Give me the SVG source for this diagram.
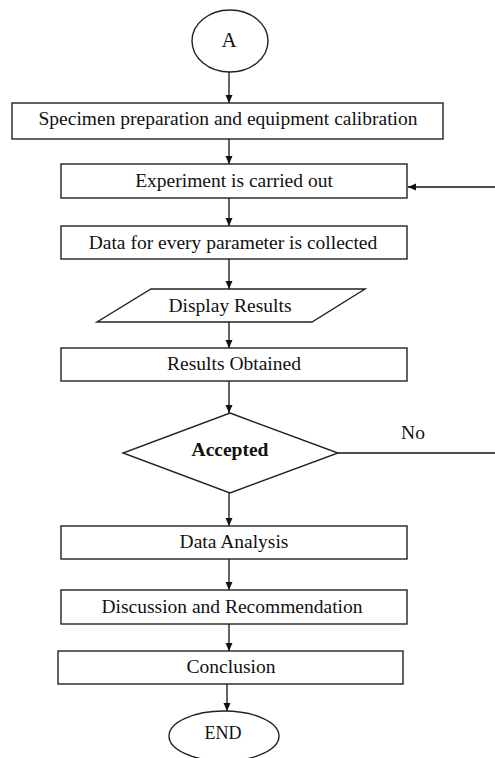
<svg xmlns="http://www.w3.org/2000/svg" width="495" height="758" viewBox="0 0 495 758">
<style>
.s{fill:#fff;stroke:#222;stroke-width:1.4}
.t{font-family:"Liberation Serif","Times New Roman",serif;font-size:19.5px;fill:#111;text-anchor:middle}
.c{stroke:#111;stroke-width:1.3;fill:none}
</style>
<defs>
<marker id="ah" markerWidth="8" markerHeight="8" refX="8" refY="4" orient="auto" markerUnits="userSpaceOnUse">
<path d="M0,0.5 L8,4 L0,7.5 Z" fill="#111"/>
</marker>
</defs>
<rect width="495" height="758" fill="#fff"/>
<g id="connectors">
<line class="c" x1="229" y1="72" x2="229" y2="103" marker-end="url(#ah)"/>
<line class="c" x1="229" y1="139" x2="229" y2="164" marker-end="url(#ah)"/>
<line class="c" x1="229" y1="198" x2="229" y2="226" marker-end="url(#ah)"/>
<line class="c" x1="229" y1="259" x2="229" y2="289" marker-end="url(#ah)"/>
<line class="c" x1="229" y1="322" x2="229" y2="348" marker-end="url(#ah)"/>
<line class="c" x1="229" y1="381" x2="229" y2="413" marker-end="url(#ah)"/>
<line class="c" x1="229" y1="493" x2="229" y2="526" marker-end="url(#ah)"/>
<line class="c" x1="229" y1="559" x2="229" y2="590" marker-end="url(#ah)"/>
<line class="c" x1="229" y1="624" x2="229" y2="651" marker-end="url(#ah)"/>
<line class="c" x1="227" y1="684" x2="227" y2="711" marker-end="url(#ah)"/>
<line class="c" x1="495" y1="187" x2="408" y2="187" marker-end="url(#ah)"/>
<line class="c" x1="338" y1="453" x2="495" y2="453"/>
<text class="t" x="413" y="439">No</text>
</g>
<g id="start">
<ellipse class="s" cx="230" cy="41" rx="38" ry="31"/>
<text class="t" x="229" y="47" style="font-size:21px">A</text>
</g>
<g id="prep">
<rect class="s" x="12" y="103" width="431" height="36"/>
<text class="t" x="228" y="125">Specimen preparation and equipment calibration</text>
</g>
<g id="experiment">
<rect class="s" x="61" y="164" width="346" height="34"/>
<text class="t" x="234" y="187">Experiment is carried out</text>
</g>
<g id="data">
<rect class="s" x="61" y="226" width="346" height="33"/>
<text class="t" x="233" y="249">Data for every parameter is collected</text>
</g>
<g id="display">
<polygon class="s" points="151,289 365,289 312,322 97,322"/>
<text class="t" x="230" y="312">Display Results</text>
</g>
<g id="results">
<rect class="s" x="61" y="348" width="346" height="33"/>
<text class="t" x="234" y="370">Results Obtained</text>
</g>
<g id="accepted">
<polygon class="s" points="230,413 338,453 230,493 123,453"/>
<text class="t" x="230" y="456" style="font-weight:bold">Accepted</text>
</g>
<g id="analysis">
<rect class="s" x="61" y="526" width="346" height="33"/>
<text class="t" x="234" y="548">Data Analysis</text>
</g>
<g id="discussion">
<rect class="s" x="61" y="590" width="346" height="34"/>
<text class="t" x="232" y="613">Discussion and Recommendation</text>
</g>
<g id="conclusion">
<rect class="s" x="58" y="651" width="345" height="33"/>
<text class="t" x="231" y="673">Conclusion</text>
</g>
<g id="end">
<ellipse class="s" cx="224" cy="736" rx="55" ry="25"/>
<text class="t" x="223" y="739" style="font-size:18px">END</text>
</g>
</svg>
